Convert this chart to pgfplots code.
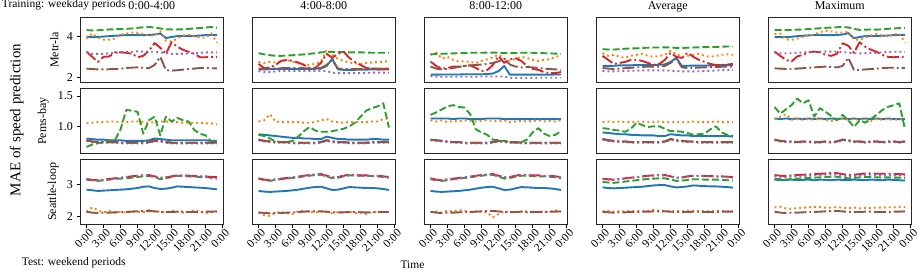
\documentclass[border=0pt]{standalone}
\usepackage{fontspec}
\setmainfont{Liberation Serif}
\usepackage{pgfplots}
\pgfplotsset{compat=1.18}
\definecolor{cB}{HTML}{1F77B4}
\definecolor{cO}{HTML}{FF7F0E}
\definecolor{cG}{HTML}{2CA02C}
\definecolor{cR}{HTML}{D62728}
\definecolor{cP}{HTML}{9467BD}
\definecolor{cN}{HTML}{8C564B}
\newcommand\fa{\fontsize{12}{14}\selectfont}
\newcommand\fb{\fontsize{11.5}{13}\selectfont}
\pgfplotsset{
  sb/.style={draw=cB, line width=1.9pt, solid, line join=round},
  so/.style={draw=cO, line width=1.9pt, dash pattern=on 1.9pt off 3.1pt},
  sg/.style={draw=cG, line width=1.9pt, dash pattern=on 7.0pt off 3.0pt, line join=round},
  sr/.style={draw=cR, line width=1.9pt, dash pattern=on 12pt off 3pt on 1.9pt off 3pt, line join=round},
  sp/.style={draw=cP, line width=1.9pt, dash pattern=on 1.9pt off 3.1pt},
  sn/.style={draw=cN, line width=1.9pt, dash pattern=on 12pt off 3pt on 1.9pt off 3pt, line join=round},
  base/.style={scale only axis, width=143.5pt, height=64.5pt, anchor=north west,
    xmin=-1.15, xmax=24.15,
    axis line style={black!85, line width=0.9pt},
    tick align=outside, major tick length=3.5pt,
    tick style={black, line width=0.8pt},
    xtick pos=bottom, ytick pos=left,
    tick label style={font=\fa},
    /pgf/number format/assume math mode=true,
    title style={font=\fa, at={(0.5,1)}, anchor=base, yshift=1.7pt, inner sep=0pt},
  },
  r1/.style={ymin=1.75, ymax=4.93, ytick={2,4}},
  r2/.style={ymin=0.555, ymax=1.62, ytick={1.0,1.5}, yticklabels={1.0,1.5}},
  r3/.style={ymin=1.77, ymax=3.76, ytick={2,3}},
  noy/.style={ytick=\empty},
  nox/.style={xtick=\empty},
  xt/.style={xtick={0,3,6,9,12,15,18,21,24},
    xticklabels={0:00,3:00,6:00,9:00,12:00,15:00,18:00,21:00,0:00},
    xticklabel style={xshift=2pt, rotate=45, anchor=north east, inner sep=0.5pt, font=\fb}},
}
\newcommand{\ser}[2]{\addplot[#1] table[header=false,x expr=\coordindex,y index=0,row sep=\\]{#2};}
\newcommand{\panel}[6]{\ser{sb}{#1}\ser{so}{#2}\ser{sg}{#3}\ser{sr}{#4}\ser{sp}{#5}\ser{sn}{#6}}
\begin{document}
\begin{tikzpicture}
\path[use as bounding box] (0pt,0pt) rectangle (920pt,-272pt);
% ---------------- Row 1: Metr-la
\begin{axis}[base, r1, nox, at={(80pt,-17.7pt)}, title={0:00-4:00}]
\panel
{4.00\\3.97\\3.98\\4.00\\4.02\\4.04\\4.06\\4.07\\4.08\\4.07\\4.07\\4.08\\4.10\\4.15\\3.93\\3.98\\4.02\\4.03\\4.02\\4.03\\4.05\\4.07\\4.08\\4.07\\}
{3.90\\4.15\\3.95\\3.85\\3.85\\3.90\\4.10\\4.15\\4.20\\4.18\\4.12\\4.05\\4.05\\4.25\\3.80\\3.75\\3.90\\4.05\\4.10\\4.00\\3.95\\3.95\\4.15\\3.70\\}
{4.32\\4.30\\4.31\\4.33\\4.35\\4.36\\4.37\\4.38\\4.40\\4.43\\4.46\\4.47\\4.45\\4.40\\4.36\\4.35\\4.35\\4.36\\4.38\\4.40\\4.42\\4.45\\4.47\\4.44\\}
{3.25\\3.00\\2.75\\3.00\\3.02\\3.22\\3.22\\3.20\\3.15\\2.98\\3.05\\3.30\\3.68\\3.45\\3.15\\3.72\\3.50\\3.35\\3.25\\3.15\\2.98\\2.98\\3.00\\3.00\\}
{3.25\\3.15\\3.15\\3.15\\3.17\\3.20\\3.22\\3.25\\3.25\\3.27\\3.26\\3.25\\3.25\\3.22\\3.18\\3.15\\3.15\\3.15\\3.17\\3.18\\3.20\\3.22\\3.22\\3.22\\}
{2.42\\2.40\\2.38\\2.38\\2.39\\2.40\\2.42\\2.45\\2.47\\2.48\\2.46\\2.44\\2.60\\3.00\\2.35\\2.32\\2.34\\2.37\\2.40\\2.42\\2.45\\2.45\\2.44\\2.43\\}
\end{axis}
\begin{axis}[base, r1, nox, noy, at={(252pt,-17.7pt)}, title={4:00-8:00}]
\panel
{2.38\\2.38\\2.39\\2.40\\2.40\\2.40\\2.40\\2.40\\2.40\\2.40\\2.41\\2.42\\2.55\\2.90\\2.38\\2.36\\2.36\\2.36\\2.37\\2.37\\2.38\\2.38\\2.38\\2.38\\}
{2.75\\2.70\\2.75\\2.72\\2.78\\2.85\\2.75\\2.68\\2.62\\2.60\\2.65\\2.75\\3.35\\3.10\\2.90\\2.80\\2.72\\2.68\\2.65\\2.70\\2.72\\2.75\\2.75\\2.80\\}
{3.18\\3.12\\3.08\\3.05\\3.05\\3.06\\3.08\\3.10\\3.12\\3.15\\3.18\\3.22\\3.24\\3.25\\3.24\\3.24\\3.22\\3.22\\3.22\\3.21\\3.20\\3.20\\3.20\\3.20\\}
{2.65\\2.44\\2.48\\2.60\\2.80\\2.85\\2.80\\2.72\\2.60\\2.45\\2.45\\2.70\\3.15\\2.95\\3.15\\3.25\\2.95\\2.75\\2.60\\2.45\\2.42\\2.38\\2.40\\2.42\\}
{2.30\\2.25\\2.26\\2.28\\2.30\\2.30\\2.30\\2.30\\2.30\\2.30\\2.30\\2.30\\2.30\\2.22\\2.20\\2.20\\2.20\\2.20\\2.20\\2.21\\2.22\\2.22\\2.22\\2.22\\}
{2.42\\2.42\\2.42\\2.43\\2.44\\2.45\\2.45\\2.45\\2.44\\2.44\\2.43\\2.45\\2.60\\2.85\\2.42\\2.40\\2.40\\2.40\\2.40\\2.41\\2.42\\2.42\\2.42\\2.42\\}
\end{axis}
\begin{axis}[base, r1, nox, noy, at={(424pt,-17.7pt)}, title={8:00-12:00}]
\panel
{2.12\\2.12\\2.13\\2.13\\2.13\\2.13\\2.14\\2.14\\2.14\\2.14\\2.15\\2.18\\2.30\\2.55\\2.12\\2.12\\2.12\\2.12\\2.12\\2.12\\2.12\\2.12\\2.13\\2.13\\}
{3.10\\3.20\\2.92\\3.00\\2.85\\2.77\\2.78\\2.75\\2.69\\2.80\\2.88\\2.98\\3.10\\2.92\\2.80\\2.90\\3.00\\2.95\\2.85\\2.80\\2.85\\2.88\\3.00\\3.05\\}
{3.12\\3.14\\3.15\\3.16\\3.17\\3.18\\3.19\\3.20\\3.20\\3.20\\3.21\\3.21\\3.20\\3.18\\3.18\\3.19\\3.20\\3.20\\3.20\\3.19\\3.18\\3.17\\3.16\\3.15\\}
{2.77\\2.55\\2.42\\2.45\\2.52\\2.52\\2.55\\2.58\\2.45\\2.30\\2.35\\2.60\\3.03\\2.70\\2.88\\2.93\\2.80\\2.55\\2.40\\2.36\\2.25\\2.20\\2.20\\2.25\\}
{2.05\\2.02\\2.02\\2.02\\2.02\\2.02\\2.02\\2.02\\2.02\\2.03\\2.03\\2.03\\2.03\\2.03\\1.96\\1.96\\1.96\\1.96\\1.96\\1.97\\1.97\\1.97\\1.97\\1.97\\}
{2.52\\2.42\\2.38\\2.40\\2.45\\2.50\\2.55\\2.58\\2.60\\2.62\\2.65\\2.70\\2.78\\2.90\\2.62\\2.52\\2.48\\2.50\\2.48\\2.45\\2.42\\2.40\\2.38\\2.36\\}
\end{axis}
\begin{axis}[base, r1, nox, noy, at={(596pt,-17.7pt)}, title={Average}]
\panel
{2.56\\2.55\\2.56\\2.58\\2.58\\2.58\\2.60\\2.60\\2.60\\2.60\\2.61\\2.63\\2.75\\2.95\\2.55\\2.56\\2.57\\2.57\\2.57\\2.58\\2.59\\2.60\\2.60\\2.60\\}
{3.18\\3.05\\3.10\\3.00\\2.95\\3.05\\3.10\\3.15\\3.05\\3.00\\3.05\\3.10\\3.30\\3.15\\3.00\\3.05\\3.10\\3.15\\3.05\\3.00\\3.05\\3.10\\3.12\\3.10\\}
{3.38\\3.36\\3.36\\3.38\\3.40\\3.42\\3.42\\3.44\\3.45\\3.46\\3.46\\3.47\\3.46\\3.44\\3.44\\3.45\\3.46\\3.47\\3.48\\3.48\\3.49\\3.50\\3.51\\3.51\\}
{3.05\\2.85\\2.65\\2.70\\2.75\\2.85\\2.85\\2.80\\2.70\\2.60\\2.65\\2.85\\3.20\\3.00\\2.95\\3.20\\3.00\\2.85\\2.75\\2.65\\2.60\\2.60\\2.62\\2.65\\}
{2.31\\2.28\\2.28\\2.29\\2.30\\2.31\\2.32\\2.33\\2.33\\2.33\\2.33\\2.33\\2.32\\2.30\\2.28\\2.28\\2.28\\2.29\\2.30\\2.31\\2.32\\2.34\\2.35\\2.36\\}
{2.45\\2.42\\2.40\\2.42\\2.44\\2.46\\2.48\\2.50\\2.52\\2.52\\2.52\\2.55\\2.70\\2.90\\2.48\\2.45\\2.45\\2.47\\2.48\\2.50\\2.50\\2.51\\2.51\\2.52\\}
\end{axis}
\begin{axis}[base, r1, nox, noy, at={(768pt,-17.7pt)}, title={Maximum}]
\panel
{3.99\\3.97\\3.97\\3.99\\4.02\\4.04\\4.06\\4.07\\4.08\\4.07\\4.07\\4.08\\4.10\\4.17\\3.92\\3.98\\4.02\\4.03\\4.03\\4.04\\4.05\\4.07\\4.08\\4.08\\}
{4.12\\4.15\\3.85\\3.84\\3.90\\3.98\\4.05\\4.10\\4.22\\4.28\\4.25\\4.20\\4.20\\4.25\\3.85\\3.85\\3.95\\4.05\\4.12\\4.05\\4.02\\4.10\\4.15\\3.70\\}
{4.33\\4.32\\4.32\\4.33\\4.34\\4.35\\4.37\\4.39\\4.41\\4.43\\4.44\\4.46\\4.47\\4.45\\4.38\\4.33\\4.34\\4.35\\4.34\\4.36\\4.38\\4.40\\4.42\\4.42\\}
{3.26\\3.05\\2.85\\2.77\\3.02\\3.10\\3.22\\3.26\\3.22\\3.10\\3.05\\3.15\\3.67\\3.55\\3.20\\3.72\\3.50\\3.35\\3.25\\3.10\\3.00\\2.98\\3.00\\3.00\\}
{3.18\\3.17\\3.17\\3.18\\3.20\\3.22\\3.24\\3.25\\3.25\\3.26\\3.26\\3.25\\3.24\\3.20\\3.18\\3.17\\3.18\\3.19\\3.20\\3.22\\3.24\\3.25\\3.25\\3.25\\}
{2.43\\2.42\\2.40\\2.40\\2.42\\2.44\\2.46\\2.48\\2.50\\2.52\\2.50\\2.48\\2.55\\2.95\\2.36\\2.36\\2.38\\2.40\\2.42\\2.44\\2.46\\2.46\\2.45\\2.44\\}
\end{axis}
% ---------------- Row 2: Pems-bay
\begin{axis}[base, r2, nox, at={(80pt,-88.8pt)}]
\panel
{0.80\\0.79\\0.78\\0.78\\0.77\\0.77\\0.77\\0.76\\0.76\\0.76\\0.76\\0.77\\0.80\\0.79\\0.78\\0.77\\0.77\\0.77\\0.77\\0.77\\0.77\\0.77\\0.76\\0.76\\}
{1.05\\1.06\\1.07\\1.07\\1.08\\1.08\\1.07\\1.07\\1.08\\1.08\\1.07\\1.06\\1.07\\1.08\\1.08\\1.07\\1.07\\1.06\\1.06\\1.06\\1.06\\1.05\\1.05\\1.03\\}
{0.66\\0.70\\0.72\\0.74\\0.76\\0.77\\0.95\\1.27\\1.26\\1.24\\0.88\\1.10\\1.16\\0.85\\1.16\\1.08\\1.14\\1.10\\1.08\\0.94\\0.88\\0.85\\0.75\\0.72\\}
{0.77\\0.75\\0.74\\0.74\\0.74\\0.74\\0.73\\0.73\\0.73\\0.73\\0.73\\0.74\\0.76\\0.76\\0.74\\0.73\\0.73\\0.73\\0.73\\0.73\\0.73\\0.73\\0.73\\0.73\\}
{0.76\\0.74\\0.73\\0.73\\0.73\\0.73\\0.72\\0.72\\0.72\\0.72\\0.72\\0.73\\0.75\\0.75\\0.73\\0.72\\0.72\\0.72\\0.72\\0.72\\0.72\\0.72\\0.72\\0.72\\}
{0.77\\0.75\\0.74\\0.74\\0.74\\0.74\\0.73\\0.73\\0.73\\0.73\\0.73\\0.74\\0.77\\0.76\\0.74\\0.73\\0.73\\0.73\\0.73\\0.73\\0.73\\0.73\\0.73\\0.74\\}
\end{axis}
\begin{axis}[base, r2, nox, noy, at={(252pt,-88.8pt)}]
\panel
{0.87\\0.86\\0.85\\0.84\\0.83\\0.82\\0.81\\0.81\\0.80\\0.80\\0.79\\0.79\\0.83\\0.81\\0.79\\0.79\\0.78\\0.78\\0.78\\0.78\\0.79\\0.79\\0.78\\0.78\\}
{1.08\\1.10\\1.20\\1.08\\1.07\\1.07\\1.07\\1.07\\1.06\\1.06\\1.07\\1.10\\1.12\\1.08\\1.07\\1.06\\1.07\\1.07\\1.07\\1.07\\1.08\\1.08\\1.12\\1.13\\}
{0.86\\0.84\\0.80\\0.75\\0.74\\0.74\\0.76\\0.83\\0.92\\0.99\\0.93\\0.91\\0.91\\0.92\\0.94\\0.96\\1.00\\1.06\\1.16\\1.26\\1.30\\1.33\\1.38\\0.98\\}
{0.78\\0.76\\0.75\\0.74\\0.74\\0.74\\0.73\\0.73\\0.73\\0.73\\0.73\\0.74\\0.77\\0.75\\0.74\\0.74\\0.73\\0.73\\0.73\\0.73\\0.74\\0.74\\0.74\\0.74\\}
{0.77\\0.75\\0.74\\0.73\\0.73\\0.73\\0.72\\0.72\\0.72\\0.72\\0.72\\0.73\\0.76\\0.74\\0.73\\0.73\\0.72\\0.72\\0.72\\0.72\\0.73\\0.73\\0.73\\0.73\\}
{0.78\\0.76\\0.75\\0.74\\0.74\\0.74\\0.73\\0.73\\0.73\\0.73\\0.73\\0.74\\0.77\\0.75\\0.74\\0.74\\0.73\\0.73\\0.73\\0.73\\0.74\\0.74\\0.74\\0.74\\}
\end{axis}
\begin{axis}[base, r2, nox, noy, at={(424pt,-88.8pt)}]
\panel
{1.13\\1.13\\1.13\\1.13\\1.12\\1.13\\1.13\\1.12\\1.12\\1.12\\1.13\\1.13\\1.13\\1.12\\1.12\\1.12\\1.12\\1.12\\1.12\\1.12\\1.12\\1.12\\1.12\\1.12\\}
{1.10\\1.08\\1.10\\1.07\\1.09\\1.08\\1.10\\1.09\\1.08\\1.09\\1.10\\1.09\\1.08\\1.10\\1.07\\1.08\\1.09\\1.08\\1.09\\1.10\\1.08\\1.09\\1.08\\1.10\\}
{1.19\\1.23\\1.28\\1.33\\1.35\\1.32\\1.31\\1.20\\0.95\\0.90\\0.86\\0.78\\0.77\\0.76\\0.74\\0.73\\0.74\\0.78\\0.90\\0.97\\0.88\\0.84\\0.86\\0.92\\}
{0.78\\0.77\\0.76\\0.75\\0.74\\0.74\\0.73\\0.73\\0.73\\0.73\\0.73\\0.74\\0.76\\0.75\\0.74\\0.74\\0.73\\0.73\\0.73\\0.73\\0.73\\0.73\\0.73\\0.73\\}
{0.77\\0.76\\0.75\\0.74\\0.73\\0.73\\0.72\\0.72\\0.72\\0.72\\0.72\\0.73\\0.75\\0.74\\0.73\\0.73\\0.72\\0.72\\0.72\\0.72\\0.72\\0.72\\0.72\\0.72\\}
{0.78\\0.77\\0.76\\0.75\\0.74\\0.74\\0.73\\0.73\\0.73\\0.73\\0.73\\0.74\\0.76\\0.75\\0.74\\0.74\\0.73\\0.73\\0.73\\0.73\\0.73\\0.73\\0.73\\0.73\\}
\end{axis}
\begin{axis}[base, r2, nox, noy, at={(596pt,-88.8pt)}]
\panel
{0.90\\0.89\\0.88\\0.87\\0.87\\0.86\\0.86\\0.85\\0.85\\0.85\\0.84\\0.84\\0.87\\0.86\\0.85\\0.85\\0.84\\0.84\\0.84\\0.84\\0.84\\0.84\\0.84\\0.83\\}
{1.07\\1.08\\1.07\\1.08\\1.07\\1.07\\1.08\\1.07\\1.07\\1.07\\1.08\\1.07\\1.07\\1.07\\1.07\\1.07\\1.08\\1.07\\1.07\\1.07\\1.08\\1.07\\1.07\\1.07\\}
{0.97\\0.96\\0.94\\0.93\\0.91\\0.96\\1.06\\1.02\\0.99\\1.00\\1.00\\0.96\\0.92\\0.92\\0.91\\0.89\\0.86\\0.87\\0.88\\0.95\\1.00\\0.90\\0.86\\0.84\\}
{0.79\\0.77\\0.76\\0.75\\0.75\\0.74\\0.74\\0.74\\0.74\\0.74\\0.74\\0.75\\0.79\\0.77\\0.76\\0.75\\0.75\\0.74\\0.74\\0.74\\0.74\\0.74\\0.74\\0.74\\}
{0.78\\0.76\\0.75\\0.74\\0.74\\0.73\\0.73\\0.73\\0.73\\0.73\\0.73\\0.74\\0.78\\0.76\\0.75\\0.74\\0.74\\0.73\\0.73\\0.73\\0.73\\0.73\\0.73\\0.73\\}
{0.79\\0.77\\0.76\\0.75\\0.75\\0.74\\0.74\\0.74\\0.74\\0.74\\0.74\\0.75\\0.79\\0.77\\0.76\\0.75\\0.75\\0.74\\0.74\\0.74\\0.74\\0.74\\0.74\\0.74\\}
\end{axis}
\begin{axis}[base, r2, nox, noy, at={(768pt,-88.8pt)}]
\panel
{1.13\\1.12\\1.13\\1.12\\1.13\\1.12\\1.13\\1.12\\1.13\\1.12\\1.13\\1.12\\1.13\\1.12\\1.13\\1.12\\1.13\\1.12\\1.13\\1.12\\1.13\\1.12\\1.12\\1.12\\}
{1.12\\1.16\\1.20\\1.11\\1.12\\1.11\\1.12\\1.11\\1.12\\1.11\\1.09\\1.11\\1.12\\1.11\\1.12\\1.11\\1.12\\1.09\\1.12\\1.11\\1.12\\1.11\\1.12\\1.11\\}
{1.32\\1.21\\1.28\\1.35\\1.46\\1.38\\1.43\\1.16\\1.30\\1.24\\1.17\\1.10\\1.19\\1.10\\0.99\\1.10\\1.06\\1.12\\1.19\\1.27\\1.32\\1.35\\1.38\\0.95\\}
{0.78\\0.76\\0.75\\0.75\\0.74\\0.75\\0.75\\0.74\\0.74\\0.75\\0.74\\0.75\\0.78\\0.77\\0.75\\0.75\\0.74\\0.75\\0.75\\0.74\\0.75\\0.75\\0.74\\0.75\\}
{0.77\\0.75\\0.74\\0.74\\0.73\\0.74\\0.74\\0.73\\0.73\\0.74\\0.73\\0.74\\0.77\\0.76\\0.74\\0.74\\0.73\\0.74\\0.74\\0.73\\0.74\\0.74\\0.73\\0.74\\}
{0.78\\0.76\\0.75\\0.75\\0.74\\0.75\\0.75\\0.74\\0.74\\0.75\\0.74\\0.75\\0.78\\0.77\\0.75\\0.75\\0.74\\0.75\\0.75\\0.74\\0.75\\0.75\\0.74\\0.75\\}
\end{axis}
% ---------------- Row 3: Seattle-loop
\begin{axis}[base, r3, xt, at={(80pt,-159.5pt)}]
\panel
{2.83\\2.81\\2.79\\2.80\\2.81\\2.82\\2.83\\2.84\\2.86\\2.88\\2.92\\2.93\\2.88\\2.85\\2.86\\2.89\\2.93\\2.92\\2.91\\2.90\\2.89\\2.88\\2.86\\2.84\\}
{2.15\\2.28\\2.20\\2.13\\2.17\\2.12\\2.15\\2.12\\2.18\\2.15\\2.13\\2.20\\2.17\\2.15\\2.12\\2.18\\2.15\\2.12\\2.14\\2.20\\2.15\\2.10\\2.13\\2.15\\}
{3.14\\3.12\\3.10\\3.12\\3.14\\3.16\\3.17\\3.18\\3.20\\3.22\\3.24\\3.25\\3.22\\3.15\\3.18\\3.22\\3.25\\3.25\\3.24\\3.23\\3.22\\3.22\\3.20\\3.20\\}
{3.16\\3.13\\3.12\\3.14\\3.16\\3.18\\3.20\\3.22\\3.24\\3.26\\3.27\\3.28\\3.24\\3.20\\3.21\\3.24\\3.27\\3.27\\3.26\\3.25\\3.24\\3.24\\3.22\\3.22\\}
{3.15\\3.12\\3.11\\3.13\\3.15\\3.17\\3.19\\3.22\\3.24\\3.26\\3.27\\3.28\\3.23\\3.19\\3.20\\3.23\\3.26\\3.26\\3.25\\3.24\\3.23\\3.22\\3.18\\3.17\\}
{2.15\\2.12\\2.11\\2.12\\2.12\\2.13\\2.14\\2.14\\2.15\\2.16\\2.17\\2.17\\2.16\\2.14\\2.14\\2.14\\2.15\\2.15\\2.14\\2.14\\2.14\\2.15\\2.15\\2.16\\}
\end{axis}
\begin{axis}[base, r3, xt, noy, at={(252pt,-159.5pt)}]
\panel
{2.79\\2.77\\2.76\\2.77\\2.78\\2.79\\2.81\\2.83\\2.86\\2.89\\2.91\\2.92\\2.87\\2.82\\2.83\\2.87\\2.91\\2.90\\2.89\\2.88\\2.88\\2.87\\2.85\\2.82\\}
{2.12\\2.04\\2.02\\2.12\\2.14\\2.10\\2.08\\2.16\\2.18\\2.15\\2.12\\2.16\\2.14\\2.10\\2.14\\2.12\\2.16\\2.10\\2.13\\2.08\\2.14\\2.15\\2.16\\2.13\\}
{3.16\\3.13\\3.10\\3.13\\3.15\\3.17\\3.19\\3.21\\3.24\\3.26\\3.28\\3.29\\3.24\\3.18\\3.20\\3.24\\3.27\\3.27\\3.26\\3.25\\3.25\\3.24\\3.22\\3.20\\}
{3.18\\3.14\\3.12\\3.15\\3.17\\3.19\\3.21\\3.23\\3.26\\3.28\\3.30\\3.31\\3.26\\3.21\\3.22\\3.26\\3.29\\3.28\\3.27\\3.27\\3.26\\3.26\\3.24\\3.22\\}
{3.17\\3.13\\3.11\\3.14\\3.16\\3.18\\3.20\\3.22\\3.25\\3.27\\3.29\\3.30\\3.25\\3.20\\3.21\\3.25\\3.28\\3.27\\3.26\\3.26\\3.25\\3.25\\3.23\\3.21\\}
{2.13\\2.11\\2.10\\2.11\\2.11\\2.12\\2.13\\2.14\\2.15\\2.16\\2.16\\2.16\\2.15\\2.13\\2.13\\2.13\\2.14\\2.14\\2.13\\2.13\\2.13\\2.14\\2.14\\2.14\\}
\end{axis}
\begin{axis}[base, r3, xt, noy, at={(424pt,-159.5pt)}]
\panel
{2.79\\2.77\\2.76\\2.77\\2.78\\2.79\\2.81\\2.83\\2.86\\2.89\\2.91\\2.92\\2.87\\2.82\\2.83\\2.87\\2.91\\2.90\\2.89\\2.88\\2.88\\2.87\\2.85\\2.82\\}
{2.13\\2.16\\2.12\\2.18\\2.15\\2.20\\2.18\\2.14\\2.16\\2.15\\2.12\\1.98\\2.08\\2.16\\2.14\\2.12\\2.16\\2.13\\2.15\\2.14\\2.16\\2.13\\2.20\\2.15\\}
{3.15\\3.12\\3.10\\3.12\\3.15\\3.17\\3.19\\3.21\\3.24\\3.26\\3.28\\3.29\\3.23\\3.17\\3.19\\3.23\\3.26\\3.26\\3.25\\3.24\\3.24\\3.23\\3.21\\3.18\\}
{3.18\\3.14\\3.12\\3.15\\3.17\\3.19\\3.21\\3.23\\3.26\\3.28\\3.30\\3.31\\3.26\\3.21\\3.22\\3.26\\3.29\\3.28\\3.27\\3.27\\3.26\\3.26\\3.24\\3.22\\}
{3.17\\3.13\\3.11\\3.14\\3.16\\3.18\\3.20\\3.22\\3.25\\3.27\\3.29\\3.30\\3.25\\3.20\\3.21\\3.25\\3.28\\3.27\\3.26\\3.26\\3.25\\3.25\\3.23\\3.21\\}
{2.15\\2.12\\2.11\\2.12\\2.12\\2.13\\2.14\\2.14\\2.15\\2.16\\2.17\\2.17\\2.16\\2.14\\2.14\\2.14\\2.15\\2.15\\2.14\\2.14\\2.14\\2.15\\2.15\\2.16\\}
\end{axis}
\begin{axis}[base, r3, xt, noy, at={(596pt,-159.5pt)}]
\panel
{2.90\\2.88\\2.87\\2.88\\2.89\\2.90\\2.91\\2.92\\2.94\\2.96\\2.97\\2.97\\2.93\\2.90\\2.91\\2.93\\2.96\\2.95\\2.94\\2.93\\2.93\\2.92\\2.91\\2.89\\}
{2.16\\2.18\\2.15\\2.17\\2.16\\2.18\\2.17\\2.16\\2.18\\2.20\\2.18\\2.17\\2.16\\2.17\\2.16\\2.18\\2.17\\2.16\\2.17\\2.16\\2.18\\2.17\\2.16\\2.17\\}
{3.07\\3.05\\3.04\\3.06\\3.08\\3.10\\3.12\\3.14\\3.16\\3.17\\3.18\\3.18\\3.14\\3.10\\3.11\\3.13\\3.15\\3.15\\3.14\\3.14\\3.14\\3.13\\3.12\\3.11\\}
{3.17\\3.15\\3.14\\3.16\\3.18\\3.20\\3.22\\3.24\\3.26\\3.27\\3.28\\3.28\\3.24\\3.20\\3.21\\3.24\\3.26\\3.26\\3.25\\3.25\\3.24\\3.24\\3.23\\3.22\\}
{3.16\\3.14\\3.13\\3.15\\3.17\\3.19\\3.21\\3.23\\3.25\\3.26\\3.27\\3.27\\3.23\\3.19\\3.20\\3.23\\3.25\\3.25\\3.24\\3.24\\3.23\\3.23\\3.21\\3.20\\}
{2.15\\2.13\\2.12\\2.13\\2.13\\2.14\\2.14\\2.15\\2.15\\2.16\\2.16\\2.16\\2.15\\2.14\\2.14\\2.14\\2.15\\2.15\\2.14\\2.14\\2.14\\2.15\\2.15\\2.15\\}
\end{axis}
\begin{axis}[base, r3, xt, noy, at={(768pt,-159.5pt)}]
\panel
{3.14\\3.12\\3.13\\3.14\\3.12\\3.13\\3.14\\3.12\\3.14\\3.13\\3.12\\3.14\\3.13\\3.12\\3.14\\3.13\\3.12\\3.14\\3.13\\3.12\\3.14\\3.13\\3.12\\3.11\\}
{2.28\\2.30\\2.25\\2.24\\2.26\\2.27\\2.28\\2.30\\2.29\\2.27\\2.28\\2.29\\2.27\\2.26\\2.28\\2.25\\2.27\\2.26\\2.28\\2.27\\2.29\\2.28\\2.30\\2.29\\}
{3.17\\3.15\\3.14\\3.16\\3.17\\3.18\\3.19\\3.20\\3.21\\3.22\\3.23\\3.23\\3.20\\3.18\\3.19\\3.21\\3.22\\3.22\\3.21\\3.21\\3.21\\3.20\\3.20\\3.19\\}
{3.28\\3.26\\3.25\\3.27\\3.28\\3.29\\3.30\\3.31\\3.32\\3.33\\3.34\\3.34\\3.31\\3.28\\3.29\\3.31\\3.33\\3.33\\3.32\\3.32\\3.32\\3.31\\3.31\\3.30\\}
{3.24\\3.22\\3.21\\3.23\\3.24\\3.25\\3.26\\3.27\\3.28\\3.29\\3.30\\3.30\\3.27\\3.24\\3.25\\3.27\\3.29\\3.29\\3.28\\3.28\\3.28\\3.27\\3.27\\3.26\\}
{2.15\\2.12\\2.11\\2.12\\2.12\\2.13\\2.14\\2.14\\2.15\\2.16\\2.17\\2.17\\2.16\\2.14\\2.14\\2.14\\2.15\\2.15\\2.14\\2.14\\2.14\\2.15\\2.15\\2.16\\}
\end{axis}
% ---------------- figure texts
\node[rotate=90, anchor=center, font=\fa, inner sep=0pt] at (54.3pt,-49.95pt) {Metr-la};
\node[rotate=90, anchor=center, font=\fa, inner sep=0pt] at (43.3pt,-121.05pt) {Pems-bay};
\node[rotate=90, anchor=center, font=\fa, inner sep=0pt] at (53.3pt,-191.75pt) {Seattle-loop};
\node[anchor=base west, font=\fb, inner sep=0pt] at (1.7pt,-7.5pt) {Training: weekday periods};
\node[anchor=base west, font=\fb, inner sep=0pt] at (21.7pt,-265.7pt) {Test: weekend periods};
\node[anchor=base, font=\fb, inner sep=0pt] at (412.5pt,-269pt) {Time};
\node[rotate=90, anchor=center, font=\fontsize{15}{17}\selectfont, inner sep=0pt] at (16.7pt,-120pt) {MAE of speed prediction};
\end{tikzpicture}
\end{document}
